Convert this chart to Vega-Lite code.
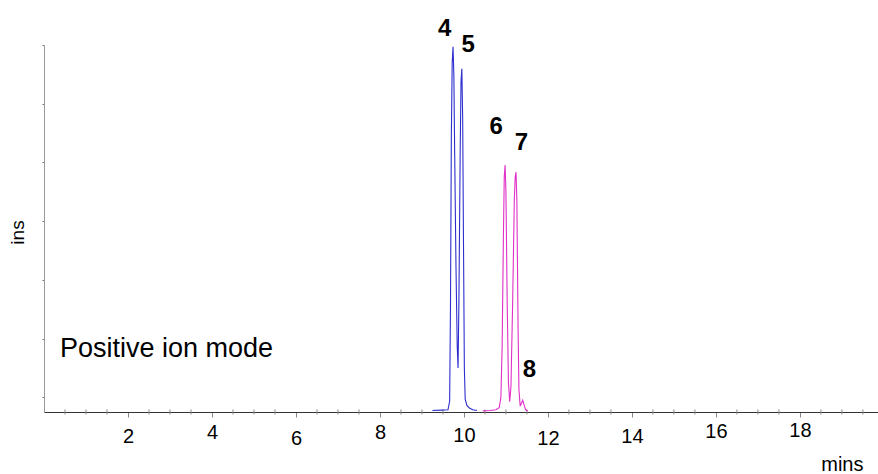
{
  "$schema": "https://vega.github.io/schema/vega-lite/v6.json",
  "autosize": "none",
  "width": 834,
  "height": 367,
  "padding": {"left": 44, "top": 45, "right": 0, "bottom": 62},
  "background": "white",
  "config": {"view": {"stroke": null}, "font": "Liberation Sans"},
  "title": {"text": "mins", "anchor": "end", "frame": "group", "align": "right", "baseline": "alphabetic", "offset": 42, "dx": -5, "fontSize": 20, "fontWeight": "normal", "font": "Liberation Sans", "color": "black"},
  "datasets": {
    "traces": [
      {"series": "A", "t": 9.25, "v": 0.4},
      {"series": "A", "t": 9.45, "v": 0.5},
      {"series": "A", "t": 9.62, "v": 0.6},
      {"series": "A", "t": 9.66, "v": 3},
      {"series": "A", "t": 9.68, "v": 30},
      {"series": "A", "t": 9.70, "v": 75},
      {"series": "A", "t": 9.72, "v": 95},
      {"series": "A", "t": 9.74, "v": 99.5},
      {"series": "A", "t": 9.76, "v": 92},
      {"series": "A", "t": 9.78, "v": 70},
      {"series": "A", "t": 9.81, "v": 40},
      {"series": "A", "t": 9.84, "v": 18},
      {"series": "A", "t": 9.86, "v": 12},
      {"series": "A", "t": 9.88, "v": 30},
      {"series": "A", "t": 9.91, "v": 70},
      {"series": "A", "t": 9.93, "v": 90},
      {"series": "A", "t": 9.95, "v": 93.5},
      {"series": "A", "t": 9.97, "v": 80},
      {"series": "A", "t": 9.99, "v": 45},
      {"series": "A", "t": 10.01, "v": 12},
      {"series": "A", "t": 10.03, "v": 3.5},
      {"series": "A", "t": 10.07, "v": 1.8},
      {"series": "A", "t": 10.13, "v": 1.1},
      {"series": "A", "t": 10.21, "v": 0.6},
      {"series": "A", "t": 10.31, "v": 0.4},
      {"series": "B", "t": 10.45, "v": 0.3},
      {"series": "B", "t": 10.62, "v": 0.4},
      {"series": "B", "t": 10.76, "v": 0.6},
      {"series": "B", "t": 10.84, "v": 1.2},
      {"series": "B", "t": 10.88, "v": 4},
      {"series": "B", "t": 10.91, "v": 18},
      {"series": "B", "t": 10.94, "v": 48},
      {"series": "B", "t": 10.96, "v": 64},
      {"series": "B", "t": 10.98, "v": 67.3},
      {"series": "B", "t": 11.00, "v": 60},
      {"series": "B", "t": 11.03, "v": 30},
      {"series": "B", "t": 11.06, "v": 8},
      {"series": "B", "t": 11.09, "v": 2.8},
      {"series": "B", "t": 11.12, "v": 7},
      {"series": "B", "t": 11.16, "v": 30},
      {"series": "B", "t": 11.20, "v": 58},
      {"series": "B", "t": 11.22, "v": 64},
      {"series": "B", "t": 11.24, "v": 65.4},
      {"series": "B", "t": 11.26, "v": 58},
      {"series": "B", "t": 11.29, "v": 22},
      {"series": "B", "t": 11.31, "v": 6},
      {"series": "B", "t": 11.34, "v": 1.6},
      {"series": "B", "t": 11.37, "v": 2.4},
      {"series": "B", "t": 11.40, "v": 3.2},
      {"series": "B", "t": 11.43, "v": 2},
      {"series": "B", "t": 11.47, "v": 0.6},
      {"series": "B", "t": 11.52, "v": 0.3}
    ],
    "minor": [
      {"t": 0.5}, {"t": 1}, {"t": 1.5}, {"t": 2.5}, {"t": 3}, {"t": 3.5}, {"t": 4.5}, {"t": 5}, {"t": 5.5},
      {"t": 6.5}, {"t": 7}, {"t": 7.5}, {"t": 8.5}, {"t": 9}, {"t": 9.5}, {"t": 10.5}, {"t": 11}, {"t": 11.5},
      {"t": 12.5}, {"t": 13}, {"t": 13.5}, {"t": 14.5}, {"t": 15}, {"t": 15.5}, {"t": 16.5}, {"t": 17}, {"t": 17.5},
      {"t": 18.5}, {"t": 19}, {"t": 19.5}
    ],
    "labels": [
      {"t": 9.54, "v": 104.4, "label": "4"},
      {"t": 10.10, "v": 99.9, "label": "5"},
      {"t": 10.77, "v": 77.7, "label": "6"},
      {"t": 11.37, "v": 73.2, "label": "7"},
      {"t": 11.56, "v": 11.4, "label": "8"}
    ],
    "notes": [
      {"t": 0.38, "v": 15.0, "text": "Positive ion mode"}
    ]
  },
  "layer": [
    {
      "data": {"name": "minor"},
      "mark": {"type": "tick", "orient": "vertical", "color": "#888888", "thickness": 1, "size": 5, "opacity": 1},
      "encoding": {
        "x": {"field": "t", "type": "quantitative"},
        "y": {"datum": 0, "type": "quantitative"}
      }
    },
    {
      "data": {"name": "traces"},
      "mark": {"type": "line", "strokeWidth": 1.1, "clip": true},
      "encoding": {
        "x": {
          "field": "t", "type": "quantitative",
          "scale": {"domain": [0, 19.86], "nice": false, "zero": false},
          "axis": {
            "title": "mins",
            "titleFont": "Liberation Sans", "titleFontSize": 20, "titleFontWeight": "normal", "titleColor": "black",
            "titleAnchor": "end", "titleAlign": "right", "titleBaseline": "alphabetic",
            "titleX": 819, "titleY": 58,
            "values": [2, 4, 6, 8, 10, 12, 14, 16, 18],
            "format": "d",
            "labelFont": "Liberation Sans", "labelFontSize": 20, "labelColor": "black",
            "labelPadding": {"condition": [
              {"test": "datum.value == 4 || datum.value == 8", "value": 5},
              {"test": "datum.value == 16", "value": 4},
              {"test": "datum.value == 18", "value": 3},
              {"test": "datum.value == 6 || datum.value == 12", "value": 11},
              {"test": "datum.value == 10", "value": 8}
            ], "value": 9},
            "labelFlush": false,
            "labelOverlap": false,
            "grid": false,
            "domainColor": "#333333", "domainWidth": 1.2,
            "tickColor": "#888888", "tickWidth": 1,
            "tickSize": 5
          }
        },
        "y": {
          "field": "v", "type": "quantitative",
          "scale": {"domain": [0, 100], "nice": false},
          "axis": {
            "title": "ins",
            "titleFont": "Liberation Sans", "titleFontSize": 19, "titleFontWeight": "normal", "titleColor": "black",
            "titleAngle": -90, "titleX": -27, "titleY": 187, "titleAlign": "center", "titleBaseline": "middle",
            "labels": false,
            "values": [4,8,12,16,20,24,28,32,36,40,44,48,52,56,60,64,68,72,76,80,84,88,92,96,100],
            "grid": false,
            "domainColor": "#999999", "domainWidth": 1,
            "tickColor": "#777777", "tickSize": 2, "tickWidth": 1
          }
        },
        "color": {
          "field": "series", "type": "nominal",
          "scale": {"domain": ["A", "B"], "range": ["#2e2ed0", "#e030c8"]},
          "legend": null
        }
      }
    },
    {
      "data": {"name": "labels"},
      "mark": {"type": "text", "font": "Liberation Sans", "fontSize": 24, "fontWeight": "bold", "align": "center", "baseline": "middle", "color": "black"},
      "encoding": {
        "x": {"field": "t", "type": "quantitative"},
        "y": {"field": "v", "type": "quantitative"},
        "text": {"field": "label"}
      }
    },
    {
      "data": {"name": "notes"},
      "mark": {"type": "text", "font": "Liberation Sans", "fontSize": 27, "align": "left", "baseline": "alphabetic", "color": "black"},
      "encoding": {
        "x": {"field": "t", "type": "quantitative"},
        "y": {"field": "v", "type": "quantitative"},
        "text": {"field": "text"}
      }
    }
  ]
}
